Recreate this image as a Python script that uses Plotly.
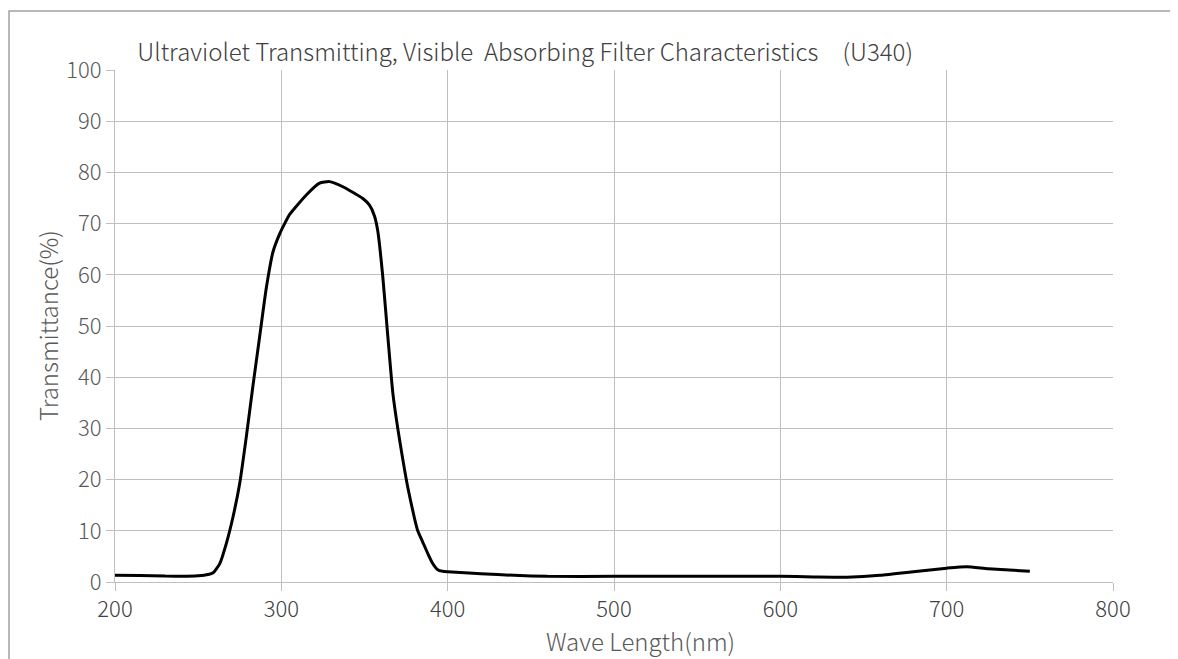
import plotly.graph_objects as go

wavelength = [200, 215, 230, 240, 250, 256, 259, 263, 267, 271, 275, 279, 283, 287, 291, 295, 299,
              302, 305, 315, 323, 329, 337, 349, 353, 356, 358, 361, 364, 367, 370, 373, 376, 380, 382, 385,
              388, 391, 394, 397, 400, 420, 440, 460, 500, 550, 600, 620, 640, 660, 680, 700, 712, 725, 750]
transmittance = [1.3, 1.25, 1.15, 1.1, 1.2, 1.45, 1.8, 3.6, 7.6, 12.8, 19.3, 28.5, 38.5, 48.0, 57.5, 64.5, 68.0,
                 70.0, 71.8, 75.6, 77.9, 78.2, 77.2, 74.9, 73.6, 71.5, 68.5, 59.6, 48.0, 37.0, 30.0, 24.0, 18.5, 12.5, 10.0, 7.8,
                 5.6, 3.6, 2.4, 2.1, 2.0, 1.6, 1.3, 1.1, 1.1, 1.1, 1.1, 1.0, 0.95, 1.3, 2.0, 2.7, 3.0, 2.6, 2.1]
x_ticks = [200, 300, 400, 500, 600, 700, 800]
y_ticks = [0, 10, 20, 30, 40, 50, 60, 70, 80, 90, 100]

title_text = "Ultraviolet Transmitting, Visible\u00a0\u00a0Absorbing Filter Characteristics\u3000(U340)"
x_title = "Wave Length(nm)"
y_title = "Transmittance(%)"

FONT = "Noto Sans CJK JP"
GRID = "#bfbfbf"

fig = go.Figure()
fig.add_trace(go.Scatter(
    x=wavelength, y=transmittance, mode="lines",
    line=dict(color="#000000", width=3, shape="spline", smoothing=0.5),
    showlegend=False, hoverinfo="skip",
))

fig.update_layout(
    width=1178, height=659, autosize=False,
    margin=dict(l=107, r=73, t=62, b=85),
    paper_bgcolor="white", plot_bgcolor="white",
    font=dict(family=FONT, color="#595959", size=22, weight=300),
    title=dict(
        text=title_text,
        x=0.411, xanchor="center", xref="paper",
        y=0.933, yanchor="middle", yref="container",
        font=dict(family=FONT, size=24, color="#404040", weight=300),
    ),
    xaxis=dict(
        range=[200, 800], tickvals=x_ticks, ticktext=[str(v) for v in x_ticks],
        showgrid=True, gridcolor=GRID, gridwidth=1,
        showline=True, linecolor=GRID, linewidth=1,
        ticks="outside", ticklen=8, tickcolor=GRID, ticklabelstandoff=0,
        zeroline=False, mirror=False,
        tickfont=dict(family=FONT, size=22, color="#404040", weight=300),
    ),
    yaxis=dict(
        range=[0, 100], tickvals=y_ticks, ticktext=[str(v) for v in y_ticks],
        showgrid=True, gridcolor=GRID, gridwidth=1,
        showline=True, linecolor=GRID, linewidth=1,
        ticks="outside", ticklen=8, tickcolor=GRID, ticklabelstandoff=0,
        zeroline=False, mirror=False,
        tickfont=dict(family=FONT, size=22, color="#595959", weight=300),
    ),
    annotations=[
        dict(text=x_title, xref="paper", yref="paper", x=0.527, y=-0.114,
             xanchor="center", yanchor="middle", showarrow=False,
             font=dict(family=FONT, size=24, color="#595959", weight=300)),
        dict(text=y_title, xref="paper", yref="paper", x=-0.0681, y=0.5,
             xanchor="center", yanchor="middle", showarrow=False, textangle=-90,
             font=dict(family=FONT, size=24, color="#595959", weight=300)),
    ],
    shapes=[dict(type="rect", xref="paper", yref="paper",
                 x0=-0.1062, x1=1.2, y0=-0.3, y1=1.1152,
                 line=dict(color="#a0a0a0", width=1.5), fillcolor="rgba(0,0,0,0)", layer="below")],
)

fig.write_html("out.html")
